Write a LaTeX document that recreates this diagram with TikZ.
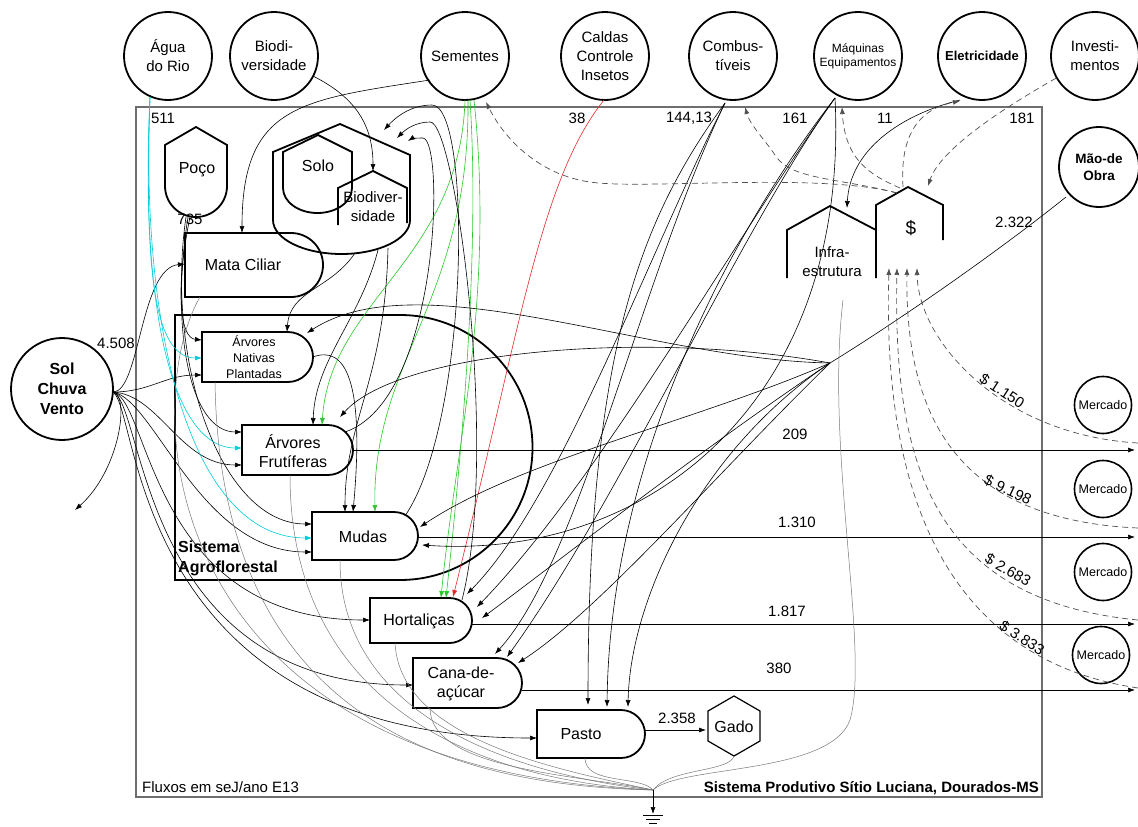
\documentclass[tikz,border=0pt]{standalone}
\usepackage{fontspec}
\setmainfont{Liberation Sans}
\usetikzlibrary{arrows.meta}
\definecolor{wcyan}{RGB}{0,205,215}
\definecolor{sgreen}{RGB}{40,200,40}
\definecolor{cred}{RGB}{230,40,40}
\definecolor{framegray}{RGB}{110,110,110}
\definecolor{heatgray}{RGB}{120,120,120}
\definecolor{moneygray}{RGB}{80,80,80}
\begin{document}
\begin{tikzpicture}[x=1pt,y=-1pt,
  src/.style={circle,draw,line width=1.8pt,minimum size=88pt,inner sep=0pt,align=center,font=\fontsize{15}{19}\selectfont},
  mkt/.style={circle,draw,line width=1.6pt,minimum size=57pt,inner sep=0pt,font=\fontsize{12.5}{14}\selectfont},
  lbl/.style={inner sep=0pt,align=center,font=\fontsize{16}{19}\selectfont},
  num/.style={inner sep=0pt,font=\fontsize{15}{17}\selectfont},
  shp/.style={draw,line width=1.8pt,line join=miter},
  fl/.style={draw,line width=0.6pt,-{Latex[length=7pt,width=5pt]}},
  wat/.style={fl,wcyan},
  sem/.style={fl,sgreen},
  heat/.style={draw,line width=0.5pt,heatgray},
  money/.style={draw,line width=0.7pt,moneygray,dash pattern=on 6pt off 4pt},
  moneyar/.style={money,-{Latex[length=7pt,width=5pt]}}
]
\useasboundingbox (0,0) rectangle (1138,827);

% ---------- frame ----------
\draw[framegray,line width=1.3pt] (136,107) rectangle (1042,797);

% ---------- sources ----------
\node[src] (agua) at (168,56) {Água\\do Rio};
\node[src] (biod) at (274,56) {Biodi-\\versidade};
\node[src] (sement) at (465,56) {Sementes};
\node[src] (cald) at (605,56) {Caldas\\Controle\\Insetos};
\node[src] (comb) at (733,56) {Combus-\\tíveis};
\node[src,font=\fontsize{12}{14}\selectfont] (maq) at (858,56) {Máquinas\\Equipamentos};
\node[src,font=\bfseries\fontsize{13}{15}\selectfont] (elet) at (982,56) {Eletricidade};
\node[src] (inv) at (1095,56) {Investi-\\mentos};
\node[src,minimum size=80pt,font=\bfseries\fontsize{13.5}{17}\selectfont] (mao) at (1099,167) {Mão-de\\Obra};
\node[src,minimum size=102pt,font=\bfseries\fontsize{16}{20}\selectfont] (sol) at (62,389) {Sol\\Chuva\\Vento};

\node[mkt] (m1) at (1103,405) {Mercado};
\node[mkt] (m2) at (1103,489) {Mercado};
\node[mkt] (m3) at (1103,572) {Mercado};
\node[mkt] (m4) at (1101,655) {Mercado};

% ---------- storages ----------
\draw[shp] (165,186) -- (165,145) -- (196,127) -- (227,145) -- (227,186) arc[start angle=0,end angle=180,radius=31] -- cycle;
\node[lbl] (poco) at (197,170) {Poço};

\draw[shp] (273,220) -- (273,152) -- (340,124) -- (410,155) -- (410,220) arc[start angle=0,end angle=180,x radius=68.5,y radius=34];
\draw[shp] (283,188) -- (283,152) -- (318,135) -- (352,152) -- (352,188) arc[start angle=0,end angle=180,x radius=34.5,y radius=25] -- cycle;
\draw[shp] (338,225) -- (338,188) -- (373,171) -- (407,188) -- (407,223);
\node[lbl] (solo) at (318,166) {Solo};
\node[lbl,font=\fontsize{15}{19}\selectfont] (biodiv) at (373,207) {Biodiver-\\sidade};

\draw[shp] (787,278) -- (787,230) -- (830,206) -- (876,230);
\draw[shp] (876,278) -- (876,205) -- (908,187) -- (943,205) -- (943,240);
\node[lbl,font=\fontsize{15}{19}\selectfont] (infra) at (832,262) {Infra-\\estrutura};
\node[lbl,font=\fontsize{19}{21}\selectfont] (dolar) at (911,228) {\$};

% ---------- producers ----------
\draw[shp] (175,315) -- (400,315) arc[start angle=-90,end angle=90,radius=132.5] -- (175,580) -- cycle;
\node[inner sep=0pt,align=left,anchor=west,font=\bfseries\fontsize{16}{20}\selectfont] (saf) at (178,558) {Sistema\\Agroflorestal};

\draw[shp] (185,233) -- (291,233) arc[start angle=-90,end angle=90,radius=32] -- (185,297) -- cycle;
\node[lbl] (mata) at (243,265) {Mata Ciliar};
\draw[shp] (202,332) -- (288,332) arc[start angle=-90,end angle=90,radius=25] -- (202,382) -- cycle;
\node[lbl,font=\fontsize{12.5}{16}\selectfont] (arvn) at (254,357) {Árvores\\Nativas\\Plantadas};
\draw[shp] (242,425) -- (328,425) arc[start angle=-90,end angle=90,radius=25] -- (242,475) -- cycle;
\node[lbl] (arvf) at (293,451) {Árvores\\Frutíferas};
\draw[shp] (312,512) -- (394,512) arc[start angle=-90,end angle=90,radius=24] -- (312,560) -- cycle;
\node[lbl] (mudas) at (363,537) {Mudas};
\draw[shp] (370,598) -- (449.5,598) arc[start angle=-90,end angle=90,radius=22.5] -- (370,643) -- cycle;
\node[lbl] (hort) at (419,621) {Hortaliças};
\draw[shp] (413,658) -- (497,658) arc[start angle=-90,end angle=90,radius=25] -- (413,708) -- cycle;
\node[lbl] (cana) at (461,684) {Cana-de-\\açúcar};
\draw[shp] (537,710) -- (621,710) arc[start angle=-90,end angle=90,radius=24] -- (537,758) -- cycle;
\node[lbl] (pasto) at (581,734) {Pasto};
\draw[line width=1.2pt] (734,696) -- (760,711) -- (760,741) -- (734,756) -- (708,741) -- (708,711) -- cycle;
\node[lbl] (gado) at (734,727) {Gado};

% ---------- ports ----------
\coordinate (solE) at (113,392);
\coordinate (aguaS) at (150,97);
\coordinate (semS) at (465,100);
\coordinate (combS) at (725,103);
\coordinate (maqS) at (835,98);
\coordinate (J) at (830,363);
\coordinate (sinkP) at (653,790);
\coordinate (grd) at (653,814);
\coordinate (dolRoof) at (897,193);

% ---------- Sol ----------
\draw[fl] (solE) .. controls (140,392) and (140,268) .. (185,264);
\draw[fl] (solE) .. controls (150,392) and (165,375) .. (202,375);
\draw[fl] (solE) .. controls (160,395) and (180,465) .. (242,465);
\draw[fl] (solE) .. controls (155,400) and (200,552) .. (312,552);
\draw[fl] (solE) .. controls (150,400) and (150,620) .. (370,620);
\draw[fl] (solE) .. controls (145,405) and (140,685) .. (413,685);
\draw[fl] (solE) .. controls (140,410) and (130,738) .. (537,738);
\draw[fl] (solE) .. controls (130,395) and (120,470) .. (75,510);

% ---------- Poço ----------
\draw[fl] (190,217) .. controls (175,290) and (180,338) .. (202,340);
\draw[fl] (188,217) .. controls (170,330) and (190,432) .. (242,432);
\draw[fl] (186,217) .. controls (165,360) and (220,524) .. (312,524);

% ---------- Água ----------
\draw[wat] (aguaS) .. controls (145,250) and (150,358) .. (202,358);
\draw[wat] (aguaS) .. controls (140,300) and (170,448) .. (242,448);
\draw[wat] (aguaS) .. controls (140,330) and (190,538) .. (312,538);

% ---------- Biodiversidade ----------
\draw[fl] (biod) .. controls (350,95) and (373,120) .. (373,171);

% ---------- Sementes ----------
\draw[fl] (430,80) .. controls (300,100) and (242,105) .. (242,233);
\draw[sem] (semS) .. controls (460,260) and (330,300) .. (322,425);
\draw[sem] (468,100) .. controls (470,300) and (372,360) .. (375,512);
\draw[sem] (474,100) .. controls (495,300) and (455,450) .. (441,598);
\draw[sem] (470,100) .. controls (480,250) and (462,450) .. (446,598);

% ---------- Caldas ----------
\draw[fl,cred] (604,100) .. controls (540,180) and (520,330) .. (453,597);

% ---------- Combustíveis ----------
\draw[fl] (combS) .. controls (650,250) and (560,500) .. (467,594);
\draw[fl] (combS) .. controls (640,280) and (580,560) .. (495,654);
\draw[fl] (combS) .. controls (640,220) and (588,350) .. (588,705);

% ---------- Máquinas ----------
\draw[fl] (maqS) .. controls (740,220) and (610,450) .. (607,707);
\draw[fl] (maqS) .. controls (740,230) and (620,500) .. (507,657);
\draw[fl] (maqS) .. controls (740,230) and (600,480) .. (477,607);
\draw[fl] (maqS) .. controls (850,400) and (650,560) .. (422,545);

% ---------- Mão-de-Obra ----------
\draw[draw,line width=0.6pt] (1066,197) .. controls (1000,250) and (900,320) .. (J);
\draw[fl] (J) .. controls (700,420) and (520,460) .. (420,527);
\draw[fl] (J) .. controls (700,450) and (560,560) .. (482,618);
\draw[fl] (J) .. controls (720,470) and (600,610) .. (518,663);
\draw[fl] (J) .. controls (700,450) and (630,600) .. (628,707);
\draw[fl] (J) .. controls (650,330) and (400,350) .. (340,417);
\draw[fl] (J) .. controls (650,360) and (420,260) .. (307,333);

% ---------- Eletricidade ----------
\draw[fl] (960,100) .. controls (900,115) and (850,150) .. (847,208);

% ---------- storage to producers ----------
\draw[fl] (355,253) .. controls (330,290) and (290,290) .. (287,332);
\draw[fl] (378,250) .. controls (360,320) and (315,360) .. (313,425);
\draw[fl] (388,248) .. controls (385,380) and (345,420) .. (345,512);
\draw[fl] (313,357) .. controls (345,345) and (365,380) .. (353,512);

% ---------- recycle loops ----------
\draw[fl] (405,516) .. controls (470,420) and (472,105) .. (432,105) .. controls (410,105) and (395,118) .. (384,130);
\draw[fl] (462,600) .. controls (500,450) and (455,120) .. (430,122) .. controls (415,122) and (405,130) .. (397,138);
\draw[fl] (345,432) .. controls (440,400) and (445,140) .. (423,138) .. controls (415,138) and (411,139) .. (408,141);

% ---------- outputs ----------
\draw[fl] (353,450) -- (1135,450);
\draw[fl] (418,537) -- (1135,537);
\draw[fl] (472,624) -- (1135,624);
\draw[fl] (522,690) -- (1135,690);
\draw[fl] (645,730) -- (706,730);

% ---------- heat sink ----------
\draw[heat] (215,382) .. controls (220,700) and (420,785) .. (sinkP);
\draw[heat] (290,475) .. controls (290,700) and (470,780) .. (sinkP);
\draw[heat] (340,560) .. controls (340,720) and (520,775) .. (sinkP);
\draw[heat] (200,297) .. controls (140,400) and (150,770) .. (sinkP);
\draw[heat] (395,643) .. controls (400,740) and (560,770) .. (sinkP);
\draw[heat] (430,708) .. controls (430,770) and (580,775) .. (sinkP);
\draw[heat] (585,758) .. controls (585,785) and (640,775) .. (sinkP);
\draw[heat] (734,756) .. controls (730,772) and (670,768) .. (sinkP);
\draw[heat] (843,300) .. controls (825,450) and (870,650) .. (850,720) .. controls (830,775) and (680,765) .. (sinkP);
\draw[fl] (sinkP) -- (grd);
\draw[line width=0.8pt] (643,815) -- (663,815) (646,819) -- (660,819) (649,823) -- (657,823);

% ---------- money ----------
\draw[moneyar] (dolRoof) .. controls (820,172) and (640,190) .. (590,182) .. controls (540,175) and (505,140) .. (486,102);
\draw[moneyar] (dolRoof) .. controls (840,178) and (790,180) .. (775,155) .. controls (765,140) and (750,125) .. (745,107);
\draw[moneyar] (900,188) .. controls (870,175) and (845,160) .. (842,107);
\draw[moneyar] (903,187) .. controls (900,140) and (915,110) .. (960,101);
\draw[moneyar] (inv) .. controls (1000,110) and (940,150) .. (928,186);
\draw[moneyar] (1138,443) .. controls (1000,435) and (918,340) .. (917,268);
\draw[moneyar] (1138,528) .. controls (960,520) and (905,420) .. (907,268);
\draw[moneyar] (1138,620) .. controls (930,600) and (893,460) .. (897,268);
\draw[moneyar] (1138,688) .. controls (950,660) and (882,500) .. (889,268);

% ---------- numbers ----------
\node[num] (n511) at (163,118) {511};
\node[num] (n735) at (190,219) {735};
\node[num] (n38) at (577,118) {38};
\node[num] (n144) at (689,118) {144,13};
\node[num] (n161) at (795,118) {161};
\node[num] (n11) at (885,118) {11};
\node[num] (n181) at (1022,118) {181};
\node[num] (n2322) at (1014,222) {2.322};
\node[num] (n4508) at (116,343) {4.508};
\node[num] (n209) at (795,434) {209};
\node[num] (n1310) at (797,522) {1.310};
\node[num] (n1817) at (787,611) {1.817};
\node[num] (n380) at (779,668) {380};
\node[num] (n2358) at (677,718) {2.358};
\node[num,rotate=-33] (d1) at (1002,391) {\$ 1.150};
\node[num,rotate=-25] (d2) at (1008,490) {\$ 9.198};
\node[num,rotate=-30] (d3) at (1008,570) {\$ 2.683};
\node[num,rotate=-33] (d4) at (1022,638) {\$ 3.833};

\node[num,anchor=west] (fluxos) at (142,787) {Fluxos em seJ/ano E13};
\node[num,anchor=east,font=\bfseries\fontsize{15}{17}\selectfont] (titulo) at (1039,788) {Sistema Produtivo Sítio Luciana, Dourados-MS};
\end{tikzpicture}
\end{document}
